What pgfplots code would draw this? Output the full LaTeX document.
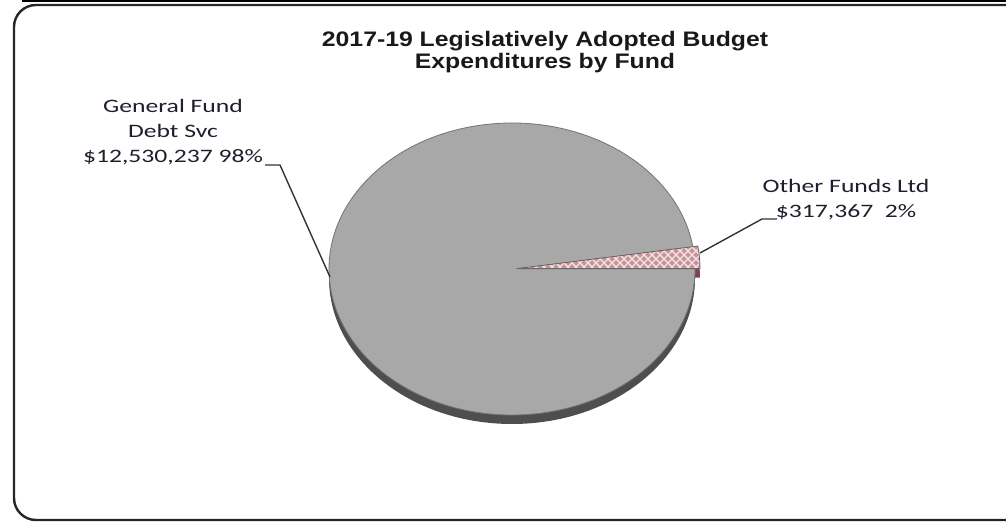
\documentclass[border=0pt]{standalone}
\usepackage{pgfplots}
\pgfplotsset{compat=1.18}
\usepackage{graphicx}
\usepackage{fontspec}
\setmainfont{Carlito}
\newfontfamily\titlefont{Liberation Sans}
\usetikzlibrary{patterns.meta}

\definecolor{piegray}{RGB}{168,168,168}
\definecolor{rimgray}{RGB}{78,78,78}
\definecolor{slicepink}{RGB}{200,146,152}
\definecolor{rimred}{RGB}{128,68,80}
\definecolor{labeltext}{RGB}{30,30,45}

\tikzdeclarepattern{
  name=bigcross, type=uncolored,
  bottom left={(-.1pt,-.1pt)}, top right={(4.1pt,4.1pt)},
  tile size={(4pt,4pt)},
  code={\draw[line width=0.7pt] (0,0) -- (4pt,4pt) (0,4pt) -- (4pt,0);}
}

\begin{document}
\begin{tikzpicture}
\begin{axis}[
    width=503pt, height=261.5pt, scale only axis,
    xmin=0, xmax=1006, ymin=0, ymax=523, y dir=reverse,
    hide axis, clip=false,
]
% values in thousands of dollars
\pgfmathsetmacro{\gen}{12530.237}
\pgfmathsetmacro{\oth}{317.367}
\pgfmathsetmacro{\ang}{360*(\oth/(\gen+\oth))}
\pgfmathsetmacro{\midang}{\ang/2}

% frame
\draw[black, line width=1pt] (axis cs:22,0.6) -- (axis cs:1006,0.6);
\draw[black!85, line width=1.2pt, rounded corners=11pt] (axis cs:14,5) rectangle (axis cs:1030,520);

% rim (side of the pie)
\fill[rimgray] (axis cs:512,278) ellipse [x radius=91.5pt, y radius=73pt];
\begin{scope}[shift={(\midang:2.5pt)}]
\fill[rimred] (axis cs:512,278) -- ++(0:91.5pt and 73pt)
    arc[start angle=0, end angle=\ang, x radius=91.5pt, y radius=73pt] -- cycle;
\end{scope}

% General Fund Debt Svc
\fill[piegray] (axis cs:512,269) -- ++(\ang:91.5pt and 73pt)
    arc[start angle=\ang, end angle=360, x radius=91.5pt, y radius=73pt] -- cycle;
\draw[black!55, line width=0.4pt] (axis cs:512,269) ++(\ang:91.5pt and 73pt)
    arc[start angle=\ang, end angle=360, x radius=91.5pt, y radius=73pt];

% Other Funds Ltd (pulled out)
\begin{scope}[shift={(\midang:2.5pt)}]
\fill[slicepink] (axis cs:512,269) -- ++(0:91.5pt and 73pt)
    arc[start angle=0, end angle=\ang, x radius=91.5pt, y radius=73pt] -- cycle;
\fill[pattern=bigcross, pattern color=white!75!slicepink] (axis cs:512,269) -- ++(0:91.5pt and 73pt)
    arc[start angle=0, end angle=\ang, x radius=91.5pt, y radius=73pt] -- cycle;
\draw[black!60, line width=0.4pt] (axis cs:512,269) -- ++(0:91.5pt and 73pt)
    arc[start angle=0, end angle=\ang, x radius=91.5pt, y radius=73pt] -- cycle;
\end{scope}

% leader lines
\draw[black!80, line width=0.7pt] (axis cs:265,165) -- (axis cs:280,165) -- (axis cs:330,277);
\draw[black!80, line width=0.7pt] (axis cs:700,253) -- (axis cs:762,219) -- (axis cs:777,219);

% labels
\node[labeltext, align=center, font=\fontsize{9.5}{12.5}\selectfont] at (axis cs:173,132)
    {\scalebox{1.35}[1]{General Fund}\\\scalebox{1.35}[1]{Debt Svc}\\\scalebox{1.35}[1]{\$12,530,237 98\%}};
\node[labeltext, align=center, font=\fontsize{9.5}{12.5}\selectfont] at (axis cs:846,200)
    {\scalebox{1.35}[1]{Other Funds Ltd}\\\scalebox{1.35}[1]{\$317,367~~2\%}};

% title
\node[black!90, align=center, font=\titlefont\bfseries\fontsize{10.5}{11}\selectfont] at (axis cs:545,52)
    {\scalebox{1.18}[1]{2017-19 Legislatively Adopted Budget}\\\scalebox{1.18}[1]{Expenditures by Fund}};

\coordinate (BL) at (axis cs:0,523);
\coordinate (TR) at (axis cs:1006,0);
\end{axis}
\pgfresetboundingbox
\path[use as bounding box] (BL) rectangle (TR);
\end{tikzpicture}
\end{document}
